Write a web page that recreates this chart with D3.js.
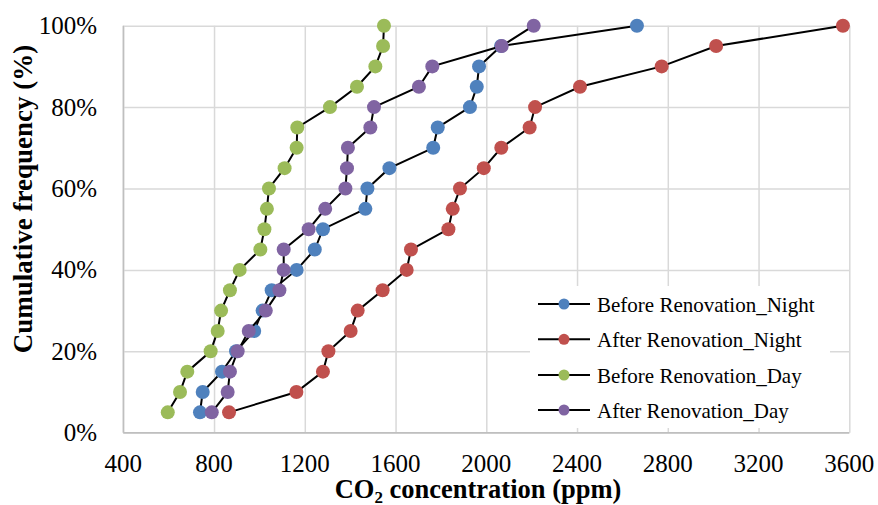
<!DOCTYPE html>
<html>
<head>
<meta charset="utf-8">
<script src="https://cdn.jsdelivr.net/npm/d3@7"></script>
<style>
  html, body { margin: 0; padding: 0; background: #fff; }
  svg { display: block; }
  text { font-family: "Liberation Serif", "Times New Roman", serif; fill: #000; }
</style>
</head>
<body>
<svg id="chart" width="878" height="505"></svg>
<script>
// ---- data ----
const freqs = [0.05,0.10,0.15,0.20,0.25,0.30,0.35,0.40,0.45,0.50,0.55,0.60,0.65,0.70,0.75,0.80,0.85,0.90,0.95,1.00];
const seriesNames = ["Before Renovation_Night","After Renovation_Night","Before Renovation_Day","After Renovation_Day"];
const beforeNight = [738,750,835,897,977,1014,1054,1164,1244,1280,1467,1476,1573,1766,1786,1928,1958,1968,2065,2664];
const afterNight  = [866,1163,1280,1304,1402,1433,1543,1649,1668,1833,1852,1884,1989,2066,2191,2215,2413,2773,3013,3572];
const beforeDay   = [596,650,682,785,816,831,870,913,1004,1022,1033,1042,1111,1164,1167,1311,1430,1511,1545,1549];
const afterDay    = [790,860,870,904,953,1028,1088,1107,1107,1217,1290,1379,1386,1390,1489,1505,1703,1762,2068,2209];
const xTicks = [400,800,1200,1600,2000,2400,2800,3200,3600];
const yTicks = [0,0.2,0.4,0.6,0.8,1.0];
const colors = ["#4F81BD","#C0504D","#9BBB59","#8064A2"];

const seriesValues = [beforeNight, afterNight, beforeDay, afterDay];

const svg = d3.select("#chart");
const x = d3.scaleLinear().domain([400,3600]).range([123.3,849.3]);
const y = d3.scaleLinear().domain([0,1]).range([432.7,25.7]);

// gridlines
const gx = svg.append("g").attr("transform","translate(0,"+y(0)+")")
  .call(d3.axisBottom(x).tickValues(xTicks).tickSize(-(y(0)-y(1))).tickFormat(""));
gx.select(".domain").remove();
gx.selectAll(".tick line").attr("stroke","#d9d9d9").attr("stroke-width",1.5);

const gy = svg.append("g").attr("transform","translate("+x(400)+",0)")
  .call(d3.axisLeft(y).tickValues(yTicks).tickSize(-(x(3600)-x(400))).tickFormat(""));
gy.select(".domain").remove();
gy.selectAll(".tick line").attr("stroke","#d9d9d9").attr("stroke-width",1.5);

// axis lines
svg.append("line").attr("x1",x(400)).attr("x2",x(3600)).attr("y1",y(0)).attr("y2",y(0))
  .attr("stroke","#bfbfbf").attr("stroke-width",1.5);
svg.append("line").attr("x1",x(400)).attr("x2",x(400)).attr("y1",y(0)).attr("y2",y(1))
  .attr("stroke","#bfbfbf").attr("stroke-width",1.5);

// tick labels
svg.append("g").selectAll("text").data(xTicks).join("text")
  .attr("x", d => x(d)).attr("y", 472)
  .attr("text-anchor","middle").attr("font-size",25)
  .text(d => d);
svg.append("g").selectAll("text").data(yTicks).join("text")
  .attr("x", 97).attr("y", d => y(d) + 8.5)
  .attr("text-anchor","end").attr("font-size",25)
  .text(d => d3.format(".0%")(d));

// axis titles
const xt = svg.append("text").attr("x",478).attr("y",498)
  .attr("text-anchor","middle").attr("font-size",26.5).attr("font-weight","bold");
xt.append("tspan").text("CO");
xt.append("tspan").attr("font-size",17).attr("dy",5).text("2");
xt.append("tspan").attr("dy",-5).text(" concentration (ppm)");

svg.append("text")
  .attr("transform","translate(31.5,199) rotate(-90)")
  .attr("text-anchor","middle").attr("font-size",27).attr("font-weight","bold")
  .text("Cumulative frequency (%)");

// series
const line = d3.line().x(d => x(d[0])).y(d => y(d[1]));
seriesValues.forEach((vals, i) => {
  const pts = vals.map((v, j) => [v, freqs[j]]);
  const g = svg.append("g");
  g.append("path").datum(pts).attr("d", line)
    .attr("fill","none").attr("stroke","#000").attr("stroke-width",2);
  g.selectAll("circle").data(pts).join("circle")
    .attr("cx", d => x(d[0])).attr("cy", d => y(d[1])).attr("r", 7)
    .attr("fill", colors[i]);
});

// legend
const legend = svg.append("g");
legend.append("rect").attr("x",530).attr("y",286).attr("width",300).attr("height",142).attr("fill","#fff");
const rowY = [304, 339.3, 375, 410];
seriesNames.forEach((name, i) => {
  const r = legend.append("g");
  r.append("line").attr("x1",538).attr("x2",590).attr("y1",rowY[i]).attr("y2",rowY[i])
    .attr("stroke","#000").attr("stroke-width",2);
  r.append("circle").attr("cx",564).attr("cy",rowY[i]).attr("r",5.5).attr("fill",colors[i]);
  r.append("text").attr("x",597).attr("y",rowY[i]+7.5).attr("font-size",21).text(name);
});
</script>
</body>
</html>
